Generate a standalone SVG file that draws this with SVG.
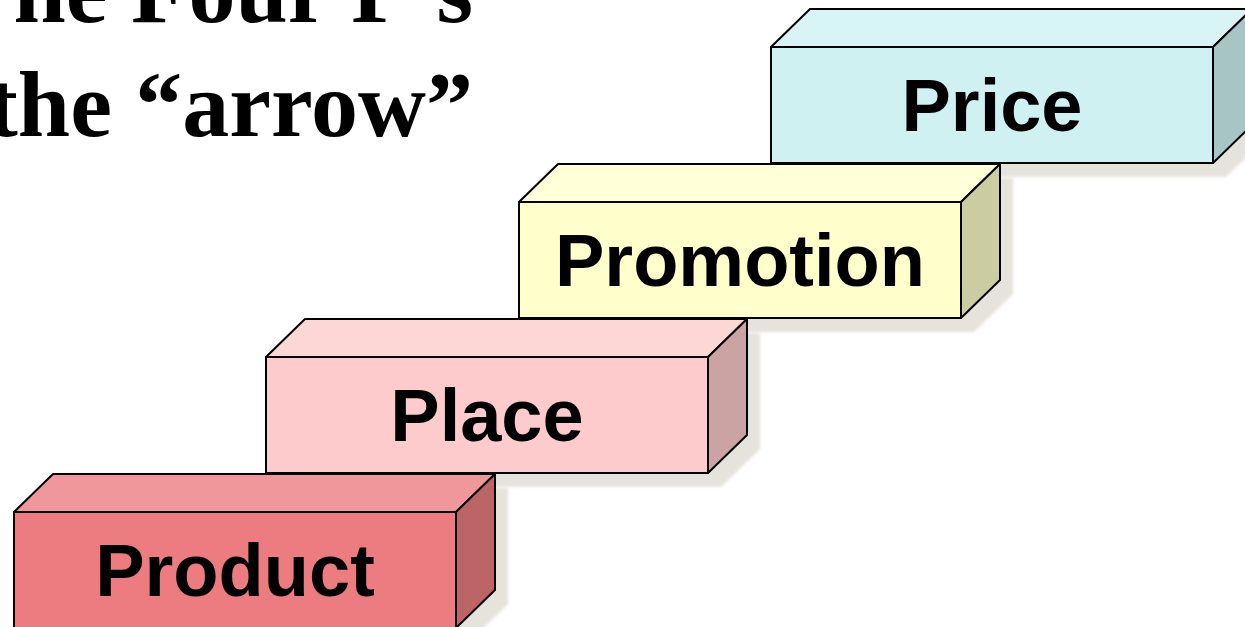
<svg xmlns="http://www.w3.org/2000/svg" width="1245" height="627" viewBox="0 0 1245 627">
  <defs>
    <filter id="soft" x="-5%" y="-5%" width="110%" height="110%">
      <feGaussianBlur stdDeviation="1.6"/>
    </filter>
    <!-- one block: front face 442x116, depth offset (39,-38) -->
    <path id="silhouette" d="M0,0 L39,-38 L481,-38 L481,78 L442,116 L0,116 Z"/>
  </defs>
  <style>
    .title { font-family: "Liberation Serif", "Times New Roman", serif; font-weight: bold; font-size: 94px; fill: #000; }
    .label { font-family: "Liberation Sans", Arial, sans-serif; font-weight: bold; font-size: 74px; fill: #000; text-anchor: middle; }
    .edge { stroke: #000; stroke-width: 2; stroke-linejoin: round; }
    .shadow { fill: #e6e2dc; filter: url(#soft); }
  </style>
  <rect width="1245" height="627" fill="#ffffff"/>

  <g id="title">
    <text class="title" x="473" y="22" text-anchor="end">The Four P’s</text>
    <text class="title" x="473" y="136" text-anchor="end">the “arrow”</text>
  </g>

  <!-- step 4 (top) -->
  <g id="price" transform="translate(771,47)">
    <use href="#silhouette" class="shadow" transform="translate(13,14)"/>
    <path class="edge" fill="#d8f4f4" d="M0,0 L39,-38 L481,-38 L442,0 Z"/>
    <path class="edge" fill="#a6c5c4" d="M442,0 L481,-38 L481,78 L442,116 Z"/>
    <rect class="edge" fill="#d0f1f2" x="0" y="0" width="442" height="116"/>
    <text class="label" x="221" y="84">Price</text>
  </g>

  <!-- step 3 -->
  <g id="promotion" transform="translate(519,202)">
    <use href="#silhouette" class="shadow" transform="translate(13,14)"/>
    <path class="edge" fill="#ffffd8" d="M0,0 L39,-38 L481,-38 L442,0 Z"/>
    <path class="edge" fill="#cccca3" d="M442,0 L481,-38 L481,78 L442,116 Z"/>
    <rect class="edge" fill="#ffffcc" x="0" y="0" width="442" height="116"/>
    <text class="label" x="221" y="84">Promotion</text>
  </g>

  <!-- step 2 -->
  <g id="place" transform="translate(266,357)">
    <use href="#silhouette" class="shadow" transform="translate(13,14)"/>
    <path class="edge" fill="#fdd6d6" d="M0,0 L39,-38 L481,-38 L442,0 Z"/>
    <path class="edge" fill="#cca3a3" d="M442,0 L481,-38 L481,78 L442,116 Z"/>
    <rect class="edge" fill="#fdcbcb" x="0" y="0" width="442" height="116"/>
    <text class="label" x="221" y="84">Place</text>
  </g>

  <!-- step 1 (bottom) -->
  <g id="product" transform="translate(14,512)">
    <use href="#silhouette" class="shadow" transform="translate(13,14)"/>
    <path class="edge" fill="#ef979a" d="M0,0 L39,-38 L481,-38 L442,0 Z"/>
    <path class="edge" fill="#bd6467" d="M442,0 L481,-38 L481,78 L442,116 Z"/>
    <rect class="edge" fill="#ec7c7f" x="0" y="0" width="442" height="116"/>
    <text class="label" x="221" y="84">Product</text>
  </g>

  <g id="connectors"/>
</svg>
